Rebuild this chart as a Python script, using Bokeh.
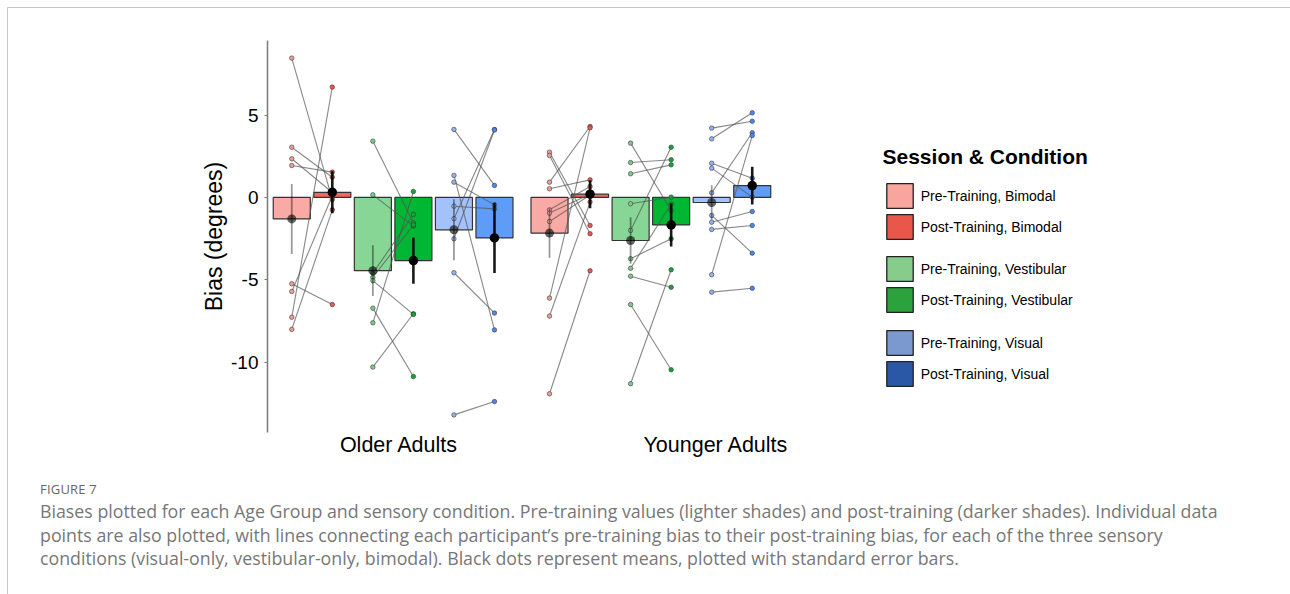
import numpy as np
from bokeh.plotting import figure
from bokeh.models import Range1d, FixedTicker, Legend, LegendItem, Label, Div, ColumnDataSource
from bokeh.layouts import row, column
from bokeh.embed import file_html
from bokeh.resources import INLINE

# ---------------- data ----------------
age_groups = ["Older Adults", "Younger Adults"]
conditions = ["Bimodal", "Vestibular", "Visual"]
sessions = ["Pre-Training", "Post-Training"]

# participant biases (degrees); index i of pre is paired with index i of post
older_bimodal_pre = [8.46, 3.05, 2.35, 1.94, -5.24, -5.71, -7.27, -8.01]
older_bimodal_post = [-0.12, 1.23, 0.30, 1.54, -6.50, 0.10, 6.70, -0.75]
older_vestibular_pre = [3.42, 0.16, -6.72, -7.61, -10.30, -4.60, -4.85, -5.05]
older_vestibular_post = [-1.54, -1.74, -10.87, 0.36, -7.06, -1.03, -1.66, -7.10]
older_visual_pre = [4.13, 1.34, 0.93, -0.53, -1.29, -2.51, -4.57, -13.20]
older_visual_post = [0.73, -8.04, -0.45, -0.69, 4.13, 4.10, -7.02, -12.39]

younger_bimodal_pre = [2.75, 2.55, 0.93, 0.53, -0.75, -0.95, -1.46, -6.11, -7.20, -11.92]
younger_bimodal_post = [-1.70, -2.20, 4.31, 1.07, 0.67, 0.20, 0.15, 4.23, -0.28, -4.45]
younger_vestibular_pre = [3.30, 2.12, 1.44, -0.38, -2.00, -3.72, -4.30, -4.78, -6.50, -11.31]
younger_vestibular_post = [-0.79, 2.29, 1.98, 0.02, 3.05, -2.51, -0.40, -5.45, -10.46, -4.39]
younger_visual_pre = [4.21, 3.56, 2.08, 1.78, 0.28, -1.09, -1.50, -1.94, -4.69, -5.75]
younger_visual_post = [4.63, 5.14, 1.17, 0.02, 3.93, -3.38, -0.85, -1.70, 3.76, -5.51]

y_ticks = [-10, -5, 0, 5]
y_tick_labels = ["-10", "-5", "0", "5"]

# ---------------- styling / layout constants ----------------
SLOT = 0.1573      # dodge step between bars
BAR_W = 0.1437     # bar width
LABEL_X = [1.023, 2.28]   # x-label positions as in the original
X_START, X_END = 0.5126, 2.4874
Y_START, Y_END = -14.27, 9.53
B_LEFT, B_RIGHT, B_TOP, B_BOTTOM = 259, 12, 32, 38
W_MAIN, H_MAIN = 780, 462

bar_fill = {
    ("Pre-Training", "Bimodal"): "#FAAAA5", ("Post-Training", "Bimodal"): "#F2685E",
    ("Pre-Training", "Vestibular"): "#87D696", ("Post-Training", "Vestibular"): "#00B734",
    ("Pre-Training", "Visual"): "#A3C2FA", ("Post-Training", "Visual"): "#5F9CF7",
}
point_fill = {
    ("Pre-Training", "Bimodal"): "#EE9C96", ("Post-Training", "Bimodal"): "#E8584E",
    ("Pre-Training", "Vestibular"): "#7CC98A", ("Post-Training", "Vestibular"): "#14A436",
    ("Pre-Training", "Visual"): "#92B2EE", ("Post-Training", "Visual"): "#4F88EA",
}
legend_fill = {
    ("Pre-Training", "Bimodal"): "#F7A59D", ("Post-Training", "Bimodal"): "#E9574A",
    ("Pre-Training", "Vestibular"): "#88CC8C", ("Post-Training", "Vestibular"): "#2CA23C",
    ("Pre-Training", "Visual"): "#7B99CE", ("Post-Training", "Visual"): "#2B58A6",
}

table = {
    ("Older Adults", "Bimodal"): (older_bimodal_pre, older_bimodal_post),
    ("Older Adults", "Vestibular"): (older_vestibular_pre, older_vestibular_post),
    ("Older Adults", "Visual"): (older_visual_pre, older_visual_post),
    ("Younger Adults", "Bimodal"): (younger_bimodal_pre, younger_bimodal_post),
    ("Younger Adults", "Vestibular"): (younger_vestibular_pre, younger_vestibular_post),
    ("Younger Adults", "Visual"): (younger_visual_pre, younger_visual_post),
}

AX_FONT = "Liberation Sans"

p = figure(width=W_MAIN, height=H_MAIN, output_backend="svg", toolbar_location=None,
           x_range=Range1d(X_START, X_END), y_range=Range1d(Y_START, Y_END),
           min_border_left=B_LEFT, min_border_right=B_RIGHT,
           min_border_top=B_TOP, min_border_bottom=B_BOTTOM)
p.outline_line_color = None
p.grid.visible = False
p.background_fill_color = "white"

# build glyph data
bars = {"x": [], "top": [], "fill": []}
lines_xs, lines_ys = [], []
pts = {"x": [], "y": [], "fill": []}
means = {s: {"x": [], "y": [], "lo": [], "hi": []} for s in sessions}

for gi, g in enumerate(age_groups):
    for ci, c in enumerate(conditions):
        pre, post = table[(g, c)]
        xs = {}
        for si, s in enumerate(sessions):
            k = ci * 2 + si
            x = (gi + 1) + (k - 2.5) * SLOT
            xs[s] = x
            vals = np.array(pre if si == 0 else post, dtype=float)
            m = vals.mean()
            se = vals.std(ddof=1) / np.sqrt(len(vals))
            bars["x"].append(x); bars["top"].append(m); bars["fill"].append(bar_fill[(s, c)])
            for v in vals:
                pts["x"].append(x); pts["y"].append(v); pts["fill"].append(point_fill[(s, c)])
            means[s]["x"].append(x); means[s]["y"].append(m)
            means[s]["lo"].append(m - se); means[s]["hi"].append(m + se)
        for a, b in zip(pre, post):
            lines_xs.append([xs["Pre-Training"], xs["Post-Training"]])
            lines_ys.append([a, b])

p.vbar(x=bars["x"], top=bars["top"], bottom=0, width=BAR_W, fill_color=bars["fill"],
       line_color="#333333", line_width=1.2)
p.multi_line(xs=lines_xs, ys=lines_ys, line_color="#555555", line_alpha=0.7, line_width=1.1)
p.scatter(x=pts["x"], y=pts["y"], size=4.5, fill_color=pts["fill"],
          line_color="#333333", line_alpha=0.8, line_width=0.7)
# error bars & means
mp = means["Pre-Training"]
p.segment(x0=mp["x"], y0=mp["lo"], x1=mp["x"], y1=mp["hi"], line_color="#000000",
          line_alpha=0.4, line_width=1.8)
p.scatter(x=mp["x"], y=mp["y"], size=9, fill_color="#000000", fill_alpha=0.6, line_color=None)
mq = means["Post-Training"]
p.segment(x0=mq["x"], y0=mq["lo"], x1=mq["x"], y1=mq["hi"], line_color="#000000",
          line_alpha=0.9, line_width=2.6)
p.scatter(x=mq["x"], y=mq["y"], size=9.5, fill_color="#000000", line_color=None)

# axes
yax = p.yaxis[0]
yax.ticker = FixedTicker(ticks=y_ticks)
yax.major_label_overrides = {t: l for t, l in zip(y_ticks, y_tick_labels)}
yax.minor_tick_line_color = None
yax.axis_line_color = "#7f7f7f"
yax.axis_line_width = 1.6
yax.major_tick_line_color = "#7f7f7f"
yax.major_tick_out = 3
yax.major_tick_in = 0
yax.major_label_standoff = 6
yax.major_label_text_font = AX_FONT
yax.major_label_text_font_size = "19px"
yax.major_label_text_color = "#000000"
yax.axis_label = "Bias (degrees)"
yax.axis_label_text_font = AX_FONT
yax.axis_label_text_font_size = "23px"
yax.axis_label_text_font_style = "normal"
yax.axis_label_text_color = "#000000"
yax.axis_label_standoff = 1

xax = p.xaxis[0]
xax.ticker = FixedTicker(ticks=LABEL_X)
xax.major_label_overrides = {t: l for t, l in zip(LABEL_X, age_groups)}
xax.axis_line_color = None
xax.major_tick_line_color = None
xax.minor_tick_line_color = None
xax.major_label_standoff = -6
xax.major_label_text_font = AX_FONT
xax.major_label_text_font_size = "21.5px"
xax.major_label_text_color = "#000000"

# ---------------- legend panel ----------------
# its frame is aligned with the main frame by the row; data y = canvas px from top
LW = 1274 - W_MAIN
FRAME_BOTTOM = H_MAIN - B_BOTTOM
q = figure(width=LW, height=H_MAIN, output_backend="svg", toolbar_location=None,
           x_range=Range1d(0, LW), y_range=Range1d(FRAME_BOTTOM, B_TOP),
           min_border_left=0, min_border_right=0,
           min_border_top=B_TOP, min_border_bottom=B_BOTTOM)
q.axis.visible = False
q.grid.visible = False
q.outline_line_color = None

q.add_layout(Label(x=94, y=148, text="Session & Condition", text_font=AX_FONT,
                   text_font_size="21px", text_font_style="bold", text_baseline="middle",
                   text_color="#000000"))

legend_bottoms = [190, 117, 43]
nan = float("nan")
for ci, c in enumerate(conditions):
    items = []
    for s in sessions:
        # legend-only renderer: non-finite coordinates, so no bar is drawn in the frame
        src = ColumnDataSource(data=dict(x=[nan], top=[nan], bottom=[nan]))
        r = q.vbar(x="x", top="top", bottom="bottom", width=1, source=src,
                   fill_color=legend_fill[(s, c)], line_color="#222222", line_width=1.3)
        items.append(LegendItem(label=f"{s}, {c}", renderers=[r]))
    lg = Legend(items=items, location=(94.7, legend_bottoms[ci]), glyph_width=33, glyph_height=31,
                label_height=30, spacing=0, padding=0, margin=0, border_line_alpha=0,
                background_fill_alpha=0, label_text_font=AX_FONT, label_text_font_size="14px",
                label_standoff=5, label_text_color="#000000")
    q.add_layout(lg)

caption_lines = [
    "Biases plotted for each Age Group and sensory condition. Pre-training values (lighter shades) and post-training (darker shades). Individual data",
    "points are also plotted, with lines connecting each participant\u2019s pre-training bias to their post-training bias, for each of the three sensory",
    "conditions (visual-only, vestibular-only, bimodal). Black dots represent means, plotted with standard error bars.",
]
cap_html = (
    "<div style=\"position:relative;width:1260px;height:112px;font-family:'Open Sans',sans-serif;\">"
    "<div style=\"position:absolute;left:27px;top:6px;font-size:13px;line-height:16px;color:#666666;letter-spacing:0.2px;\">FIGURE 7</div>"
    "<div style=\"position:absolute;left:27px;top:25px;font-size:17.8px;line-height:23.5px;color:#777777;white-space:nowrap;\">"
    + "<br>".join(caption_lines) + "</div></div>"
)
cap = Div(text=cap_html, width=1274, height=116)

layout = column(row(p, q), cap,
                styles={"margin-left": "8px", "margin-top": "8px",
                        "box-shadow": "-1px -1px 0 0 #c6c6c6"})

open("out.html", "w").write(file_html(layout, INLINE))
